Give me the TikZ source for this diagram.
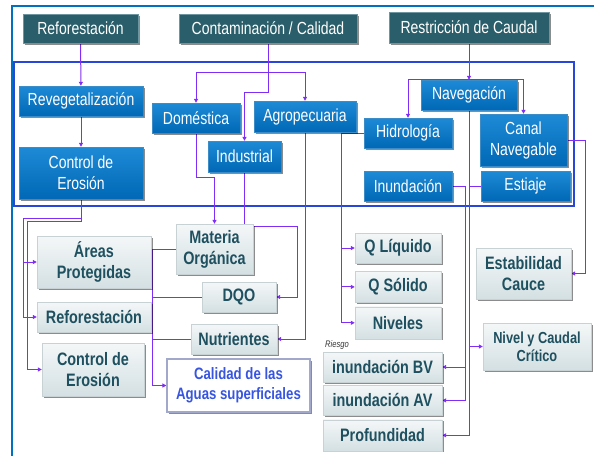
\documentclass[tikz,border=0pt]{standalone}
\usepackage{fontspec}
\setmainfont{Liberation Sans}[FakeStretch=0.8]
\usetikzlibrary{positioning,shadows,arrows.meta,backgrounds}
\definecolor{headteal}{RGB}{42,94,106}
\definecolor{headedge}{RGB}{110,150,160}
\definecolor{blueup}{RGB}{30,138,214}
\definecolor{bluedown}{RGB}{0,104,182}
\definecolor{blueedge}{RGB}{60,140,200}
\definecolor{grayup}{RGB}{244,247,248}
\definecolor{graydown}{RGB}{212,224,227}
\definecolor{grayedge}{RGB}{200,210,212}
\definecolor{graytext}{RGB}{30,80,95}
\definecolor{lineviolet}{RGB}{128,46,245}
\definecolor{frameblue}{RGB}{0,112,192}
\definecolor{innerblue}{RGB}{40,70,215}
\definecolor{calblue}{RGB}{55,85,225}
\tikzset{
  boxshadow/.style={drop shadow={shadow xshift=1.5pt, shadow yshift=-1.5pt, opacity=0.45, fill=black}}
}

\begin{document}
\begin{tikzpicture}[
        x=1pt, y=-1pt,
        font=\fontsize{17.5}{21}\selectfont,
        cause/.style={draw=headedge, fill=headteal, text=white, minimum height=29pt, inner sep=0pt, boxshadow},
        branch/.style={draw=blueedge, top color=blueup, bottom color=bluedown, text=white, inner sep=0pt, align=center, boxshadow},
        effect/.style={draw=grayedge, top color=grayup, bottom color=graydown, text=graytext, inner sep=0pt, align=center,
                       font=\bfseries\fontsize{18}{21}\selectfont, boxshadow},
        goal/.style={draw=calblue!40!gray!60, line width=1.2pt, fill=white, text=calblue, inner sep=0pt, align=center,
                     font=\bfseries\fontsize{16.5}{20}\selectfont, boxshadow},
        arrow/.style={-{Triangle[length=4pt,width=4pt]}, line width=1pt, draw=lineviolet},
        link/.style={line width=1pt, draw=lineviolet},
    ]
    \useasboundingbox (0,0) rectangle (594,455);

    % Top causes
    \node[cause, minimum width=115pt] (refTop) at (80.5,28.5) {Reforestación};
    \node[cause, minimum width=178pt] (contam) at (268,28.5) {Contaminación / Calidad};
    \node[cause, minimum width=160pt, minimum height=31pt] (restric) at (469,27.5) {Restricción de Caudal};

    % Blue boxes
    \node[branch, minimum width=124pt, minimum height=30pt] (reveg) at (81,101) {Revegetalización};
    \node[branch, minimum width=124pt, minimum height=52pt] (erosA) at (81,173) {Control de\\Erosión};
    \node[branch, minimum width=88pt, minimum height=30pt] (domest) at (196,118) {Doméstica};
    \node[branch, minimum width=73pt, minimum height=31pt] (indust) at (244.5,156.5) {Industrial};
    \node[branch, minimum width=102pt, minimum height=31pt] (agro) at (305,116.5) {Agropecuaria};
    \node[branch, minimum width=88pt, minimum height=30pt] (hidro) at (408,133) {Hidrología};
    \node[branch, minimum width=96pt, minimum height=30pt] (naveg) at (469,95) {Navegación};
    \node[branch, minimum width=87pt, minimum height=52pt] (canal) at (523.5,140) {Canal\\Navegable};
    \node[branch, minimum width=88pt, minimum height=30pt] (inund) at (408,186) {Inundación};
    \node[branch, minimum width=89pt, minimum height=30pt] (estiaje) at (525.5,186) {Estiaje};

    % Gray boxes
    \node[effect, minimum width=114pt, minimum height=52pt] (areas) at (94,262) {Áreas\\Protegidas};
    \node[effect, minimum width=114pt, minimum height=30pt] (refLow) at (94,317) {Reforestación};
    \node[effect, minimum width=102pt, minimum height=53pt] (erosB) at (93,369.5) {Control de\\Erosión};
    \node[effect, minimum width=77pt, minimum height=50pt] (materia) at (214.5,249) {Materia\\Orgánica};
    \node[effect, minimum width=74pt, minimum height=30pt] (dqo) at (239,297) {DQO};
    \node[effect, minimum width=86pt, minimum height=30pt] (nutri) at (234,339) {Nutrientes};
    \node[goal, minimum width=143pt, minimum height=53pt] (calidad) at (238.5,385.5) {Calidad de las\\Aguas superficiales};

    \node[effect, minimum width=86pt, minimum height=30pt] (qliq) at (398,248) {Q Líquido};
    \node[effect, minimum width=86pt, minimum height=31pt, below=8pt of qliq] (qsol) {Q Sólido};
    \node[effect, minimum width=86pt, minimum height=32pt, below=4pt of qsol] (niveles) {Niveles};

    \node[font=\itshape\fontsize{9.5}{10}\selectfont, text=black!80] (riesgo) at (337,345) {Riesgo};
    \node[effect, minimum width=119pt, minimum height=30pt] (inunBV) at (382.5,367) {inundación BV};
    \node[effect, minimum width=119pt, minimum height=30pt, below=3pt of inunBV] (inunAV) {inundación AV};
    \node[effect, minimum width=119pt, minimum height=31pt, below=4pt of inunAV] (prof) {Profundidad};

    \node[effect, minimum width=95pt, minimum height=51pt] (estab) at (523.5,273.5) {Estabilidad\\Cauce};
    \node[effect, minimum width=108pt, minimum height=47pt, font=\bfseries\fontsize{16}{18}\selectfont] (critico) at (537,346.5) {Nivel y Caudal\\Crítico};

    \begin{scope}[on background layer]
    % Frames
    \draw[frameblue, line width=2pt] (12,6) rectangle (620,480);
    \draw[innerblue, line width=1.6pt] (14,62) rectangle (574,206);

    % Lines
    \coordinate (erosJoin) at (23,218);
    \coordinate (erosJoin2) at (27,221);
    \draw[arrow] (refTop) -- (reveg);
    \draw[arrow] (reveg) -- (erosA);
    \draw[arrow] (erosA.south) |- (erosJoin) |- (areas.west);
    \draw[arrow] (erosJoin) |- (refLow.west);
    \draw[arrow] (erosA.south) |- (erosJoin2) |- (erosB.west);

    \coordinate (contJoin) at (268,72);
    \coordinate (contJoin2) at (268,92);
    \draw[arrow] (contam.south) -- (contJoin) -| (domest.north);
    \draw[arrow] (contJoin) -| (agro.north);
    \draw[arrow] (contJoin) -- (contJoin2) -| (indust.north);

    \coordinate (indJoin) at (297,226);
    \draw[arrow] (domest.south) -- ++(0,44) -| (materia.north);
    \draw[arrow] (indust.south) |- (indJoin) |- (dqo.east);
    \draw[arrow] (agro.south) |- (nutri.east);

    \coordinate (calBus) at (152,249);
    \draw[arrow] (materia.west) -- (calBus) |- (calidad.west);
    \draw[link] (dqo.west) -- (dqo.west -| calBus);
    \draw[link] (nutri.west) -- (nutri.west -| calBus);

    \draw[arrow] (restric) -- (naveg);
    \draw[arrow] (naveg.north) -| (hidro.north);
    \draw[arrow] (naveg.north) -| (canal.north);

    \coordinate (hidBus) at (341,133);
    \draw[link] (hidro.west) -- (hidBus);
    \foreach \n in {qliq,qsol,niveles}
        \draw[arrow] (hidBus) |- (\n.west);

    \draw[arrow] (naveg.south) |- (prof.east);

    \coordinate (inuBus) at (465,186);
    \coordinate (estBus) at (469,186);
    \draw[link] (inund.east) -- (inuBus);
    \foreach \n in {inunBV,inunAV}
        \draw[arrow] (inuBus) |- (\n.east);
    \draw[arrow] (estiaje.west) -- (estBus) |- (critico.west);

    \draw[arrow] (canal.east) -- ++(18,0) |- (estab.east);
    \end{scope}

\end{tikzpicture}
\end{document}
